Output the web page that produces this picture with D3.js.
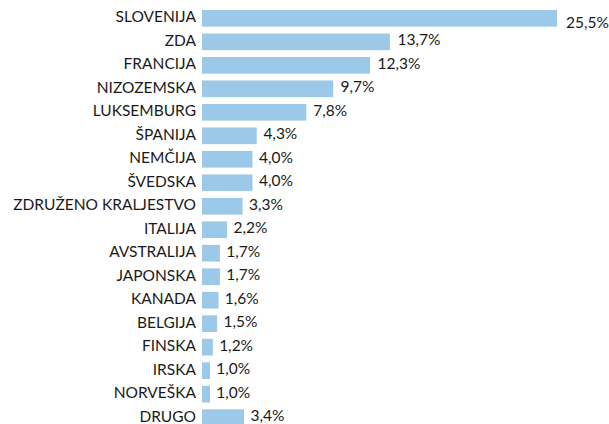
<!DOCTYPE html>
<html>
<head>
<meta charset="utf-8">
<script src="https://cdn.jsdelivr.net/npm/d3@7"></script>
<style>
  body { margin: 0; background: #fff; }
  text { font-family: Lato, "Open Sans", sans-serif; fill: #1a1a1a; }
</style>
</head>
<body>
<div id="chart"></div>
<script>
// data
var countries = ["SLOVENIJA", "ZDA", "FRANCIJA", "NIZOZEMSKA", "LUKSEMBURG", "ŠPANIJA",
    "NEMČIJA", "ŠVEDSKA", "ZDRUŽENO KRALJESTVO", "ITALIJA", "AVSTRALIJA", "JAPONSKA",
    "KANADA", "BELGIJA", "FINSKA", "IRSKA", "NORVEŠKA", "DRUGO"];
var shares = [25.5, 13.7, 12.3, 9.7, 7.8, 4.3, 4.0, 4.0, 3.3, 2.2, 1.7, 1.7, 1.6, 1.5, 1.2, 1.0, 1.0, 3.4];
var shareLabels = ["25,5%", "13,7%", "12,3%", "9,7%", "7,8%", "4,3%", "4,0%", "4,0%", "3,3%",
    "2,2%", "1,7%", "1,7%", "1,6%", "1,5%", "1,2%", "1,0%", "1,0%", "3,4%"];

var width = 609, height = 424;
var rows = countries.map(function (c, i) {
    return { country: c, value: shares[i], label: shareLabels[i] };
});

var svg = d3.select("#chart").append("svg")
    .attr("width", width)
    .attr("height", height);

// bar axis does not start exactly at zero in the original
var x = d3.scaleLinear().domain([0.435, 25.5]).range([202, 557]);
// value labels sit on a zero based scale
var xLab = d3.scaleLinear().domain([0, 25.5]).range([202, 566]);

var y = d3.scaleBand()
    .domain(countries)
    .range([3.2, 432.8])
    .padding(0.29);

var row = svg.selectAll(".row")
    .data(rows)
    .enter()
    .append("g")
    .attr("class", "row");

row.append("rect")
    .attr("x", x(x.domain()[0]))
    .attr("y", function (d) { return y(d.country); })
    .attr("width", function (d) { return x(d.value) - x(x.domain()[0]); })
    .attr("height", y.bandwidth())
    .attr("fill", "#9dc9e8");

row.append("text")
    .attr("x", 196)
    .attr("y", function (d) { return y(d.country) + y.bandwidth() / 2 - 1.5; })
    .attr("dy", "0.35em")
    .attr("text-anchor", "end")
    .attr("font-size", 15.5)
    .text(function (d) { return d.country; });

// the longest label is pushed down a bit, the way the original has it
row.append("text")
    .attr("x", function (d) { return xLab(d.value); })
    .attr("y", function (d, i) { return y(d.country) + y.bandwidth() / 2 + (i === 0 ? 4 : -2); })
    .attr("dy", "0.35em")
    .attr("font-size", 15.5)
    .text(function (d) { return d.label; });
</script>
</body>
</html>
